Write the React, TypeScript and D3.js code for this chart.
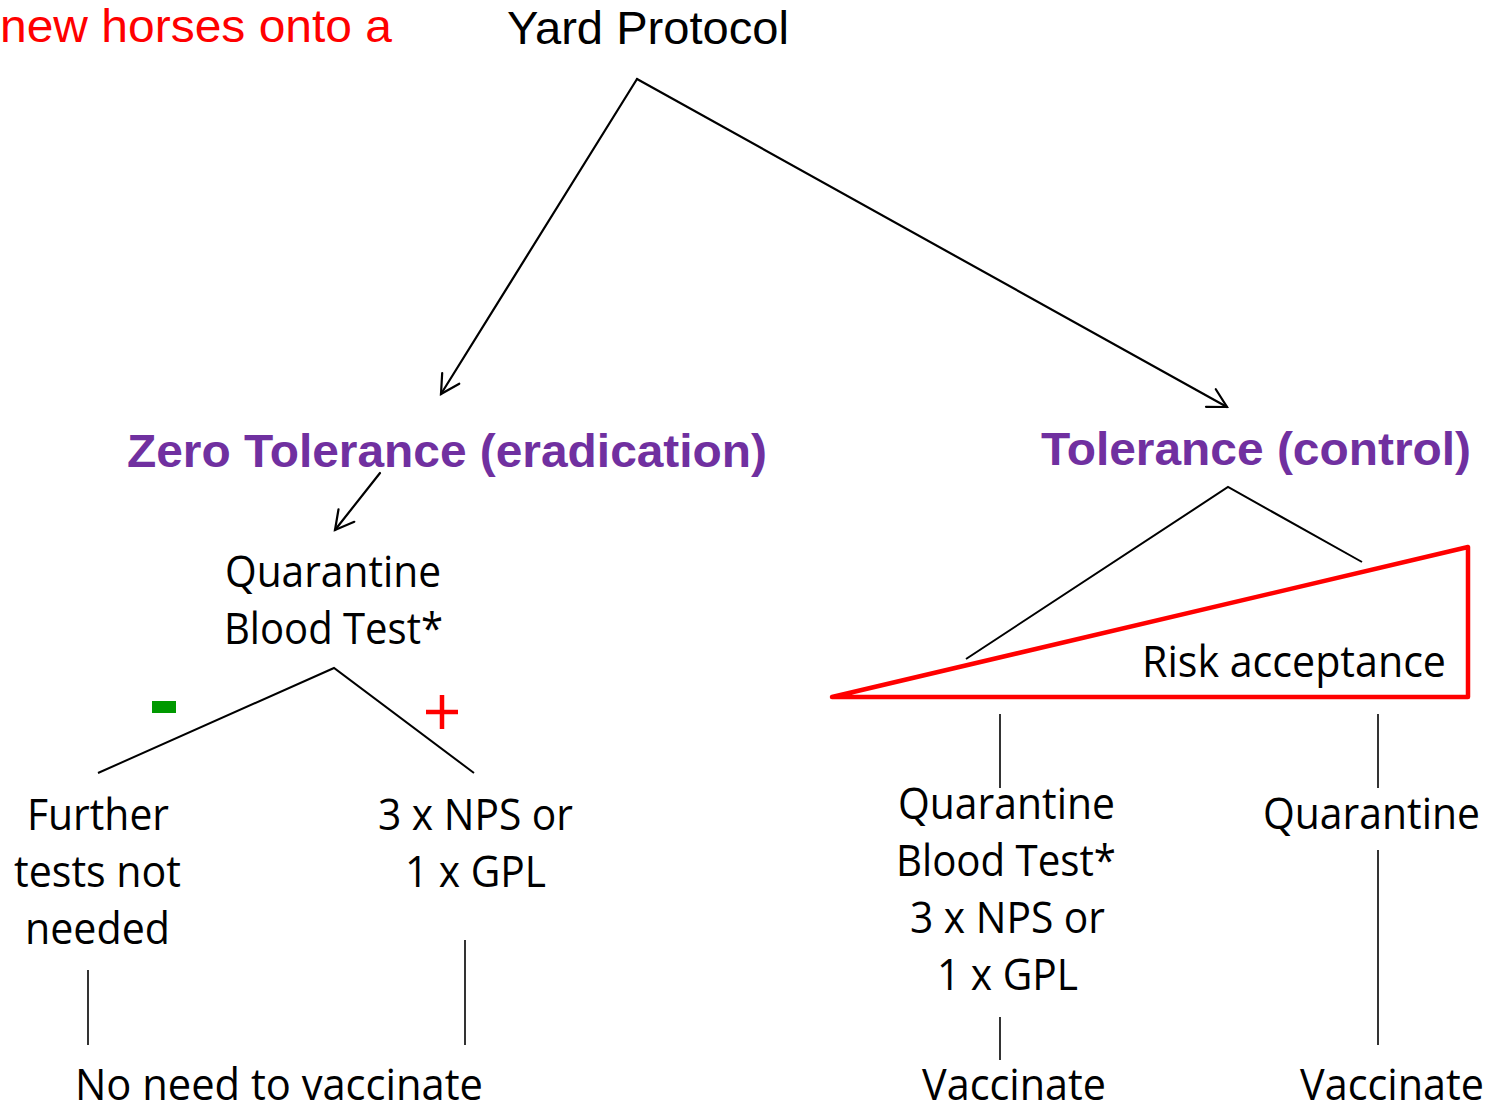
import React from "react";
import * as d3 from "d3";

// ---- content ----
const headerLabels = ["new horses onto a", "Yard Protocol"];
const strategyLabels = ["Zero Tolerance (eradication)", "Tolerance (control)"];
const zeroTolTest = ["Quarantine", "Blood Test*"];
const negativeOutcome = ["Further", "tests not", "needed"];
const positiveOutcome = ["3 x NPS or", "1 x GPL"];
const lowRiskSteps = ["Quarantine", "Blood Test*", "3 x NPS or", "1 x GPL"];
const highRiskSteps = ["Quarantine"];
const finalLabels = ["No need to vaccinate", "Vaccinate", "Vaccinate"];
const riskLabel = "Risk acceptance";
const signLabels = ["-", "+"];

const W = 1498;
const H = 1107;
const PURPLE = "#7030A0";
const RED = "#FF0000";
const GREEN = "#009900";
const ARIAL = "'Liberation Sans', Arial, sans-serif";
const BODY = "'Open Sans', 'Noto Sans', sans-serif";

type T = { text: string; x0: number; x1: number; y: number; size: number; font: string; fill?: string; weight?: string };

function Txt({ t }: { t: T }) {
  return (
    <text
      x={t.x0}
      y={t.y}
      fontFamily={t.font}
      fontSize={t.size}
      fontWeight={t.weight || "normal"}
      fill={t.fill || "#000"}
      textLength={t.x1 - t.x0}
      lengthAdjust="spacingAndGlyphs"
    >
      {t.text}
    </text>
  );
}

const line = d3.line<[number, number]>();

function Arrow({ from, to }: { from: [number, number]; to: [number, number] }) {
  const ang = Math.atan2(from[1] - to[1], from[0] - to[0]);
  const L = 21;
  const a = 0.5;
  const p1: [number, number] = [to[0] + L * Math.cos(ang + a), to[1] + L * Math.sin(ang + a)];
  const p2: [number, number] = [to[0] + L * Math.cos(ang - a), to[1] + L * Math.sin(ang - a)];
  return (
    <g stroke="#000" strokeWidth={2.2} fill="none" strokeLinecap="round">
      <path d={line([from, to]) || ""} />
      <path d={line([p1, to, p2]) || ""} />
    </g>
  );
}

function Seg({ pts, w = 2 }: { pts: [number, number][]; w?: number }) {
  return <path d={line(pts) || ""} stroke="#000" strokeWidth={w} fill="none" />;
}

export default function App() {
  const bodySize = 44;
  const texts: T[] = [
    { text: headerLabels[0], x0: 0, x1: 392, y: 42, size: 46, font: ARIAL, fill: RED },
    { text: headerLabels[1], x0: 507, x1: 789, y: 44, size: 46, font: ARIAL },
    { text: strategyLabels[0], x0: 127, x1: 767, y: 467, size: 47, font: ARIAL, fill: PURPLE, weight: "bold" },
    { text: strategyLabels[1], x0: 1041, x1: 1471, y: 465, size: 47, font: ARIAL, fill: PURPLE, weight: "bold" },
    { text: zeroTolTest[0], x0: 225, x1: 441, y: 587, size: bodySize, font: BODY },
    { text: zeroTolTest[1], x0: 224, x1: 443, y: 644, size: bodySize, font: BODY },
    { text: negativeOutcome[0], x0: 27, x1: 169, y: 830, size: bodySize, font: BODY },
    { text: negativeOutcome[1], x0: 14, x1: 181, y: 887, size: bodySize, font: BODY },
    { text: negativeOutcome[2], x0: 25, x1: 170, y: 944, size: bodySize, font: BODY },
    { text: positiveOutcome[0], x0: 378, x1: 573, y: 830, size: bodySize, font: BODY },
    { text: positiveOutcome[1], x0: 405, x1: 546, y: 887, size: bodySize, font: BODY },
    { text: lowRiskSteps[0], x0: 898, x1: 1115, y: 819, size: bodySize, font: BODY },
    { text: lowRiskSteps[1], x0: 896, x1: 1116, y: 876, size: bodySize, font: BODY },
    { text: lowRiskSteps[2], x0: 910, x1: 1105, y: 933, size: bodySize, font: BODY },
    { text: lowRiskSteps[3], x0: 937, x1: 1078, y: 990, size: bodySize, font: BODY },
    { text: highRiskSteps[0], x0: 1263, x1: 1480, y: 829, size: bodySize, font: BODY },
    { text: riskLabel, x0: 1142, x1: 1446, y: 677, size: bodySize, font: BODY },
    { text: finalLabels[0], x0: 75, x1: 483, y: 1100, size: bodySize, font: BODY },
    { text: finalLabels[1], x0: 922, x1: 1106, y: 1100, size: bodySize, font: BODY },
    { text: finalLabels[2], x0: 1300, x1: 1484, y: 1100, size: bodySize, font: BODY },
  ];

  const tri: [number, number][] = [
    [832, 697],
    [1468, 547],
    [1468, 697],
  ];

  return (
    <svg
      width={W}
      height={H}
      viewBox={`0 0 ${W} ${H}`}
      style={{ position: "absolute", left: 0, top: 0, background: "#fff" }}
    >
      <rect width={W} height={H} fill="#fff" />
      {/* arrows */}
      <Arrow from={[637, 79]} to={[441, 394]} />
      <Arrow from={[637, 79]} to={[1227, 407]} />
      <Arrow from={[380, 473]} to={[335, 530]} />

      {/* zero tolerance branches */}
      <Seg pts={[[98, 773], [334, 668], [474, 773]]} />
      <rect x={152} y={701} width={24} height={12} fill={GREEN} aria-label={signLabels[0]} />
      <g stroke={RED} strokeWidth={4.5} aria-label={signLabels[1]}>
        <line x1={426} x2={458} y1={712} y2={712} />
        <line x1={442} x2={442} y1={695} y2={729} />
      </g>
      <Seg pts={[[88, 970], [88, 1045]]} w={1.6} />
      <Seg pts={[[465, 940], [465, 1045]]} w={1.6} />

      {/* tolerance branches */}
      <Seg pts={[[966, 659], [1228, 487], [1362, 562]]} />
      <path d={(line(tri) || "") + "Z"} fill="none" stroke={RED} strokeWidth={4.5} strokeLinejoin="round" />
      <Seg pts={[[1000, 714], [1000, 788]]} w={1.6} />
      <Seg pts={[[1378, 714], [1378, 788]]} w={1.6} />
      <Seg pts={[[1000, 1017], [1000, 1060]]} w={1.6} />
      <Seg pts={[[1378, 850], [1378, 1045]]} w={1.6} />

      {texts.map((t, i) => (
        <Txt key={i} t={t} />
      ))}
    </svg>
  );
}
